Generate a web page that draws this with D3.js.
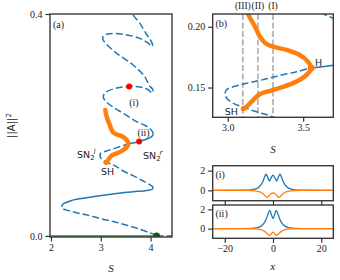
<!DOCTYPE html>
<html>
<head>
<meta charset="utf-8">
<script src="https://cdn.jsdelivr.net/npm/d3@7"></script>
<style>
body { margin: 0; background: #fff; }
text { font-family: 'Liberation Serif', 'DejaVu Serif', serif; fill: #222; }
.sans { font-family: 'DejaVu Sans', sans-serif; }
.axis line { stroke: #333; stroke-width: 1.2; }
.axis path { display: none; }
.frame { fill: none; stroke: #3a3a3a; stroke-width: 1.4; }
</style>
</head>
<body>
<script>
// ---- data (S, ||A||^2) ----
// trivial state
var trivialStable = [[1.9, 0], [4.12, 0]];
var trivialUnstable = [[4.12, 0], [4.5, 0]];

// snaking branch, split where stability changes
var lowBranchDashed = [[4.12, 0.001], [4.0, 0.005], [3.8, 0.0115], [3.52, 0.0193], [3.25, 0.026],
  [2.98, 0.0314], [2.75, 0.037], [2.58, 0.0404], [2.42, 0.044], [2.31, 0.0464], [2.25, 0.0485],
  [2.225, 0.0505], [2.215, 0.0525]];
var lowBranchSolid = [[2.215, 0.0525], [2.225, 0.0555], [2.26, 0.0585], [2.4, 0.0635], [2.65, 0.068],
  [2.98, 0.0725], [3.32, 0.0765], [3.65, 0.0795], [3.92, 0.082], [4.02, 0.0835], [4.05, 0.0855]];
var midBranchDashed = [[4.05, 0.0855], [4.04, 0.0885], [3.99, 0.092], [3.85, 0.099], [3.65, 0.1085],
  [3.45, 0.117], [3.29, 0.1263], [3.19, 0.13], [3.1, 0.134], [3.03, 0.1375], [2.995, 0.141],
  [2.982, 0.145], [2.995, 0.1485], [3.02, 0.15], [3.126, 0.1535], [3.236, 0.1565], [3.347, 0.16],
  [3.457, 0.163], [3.55, 0.166]];
var midBranchSolid = [[3.55, 0.166], [3.7, 0.1683], [3.77, 0.17], [3.85, 0.1725], [3.95, 0.1755],
  [4.035, 0.18], [4.05, 0.183]];
var upBranchDashed = [[4.05, 0.183], [4.045, 0.1865], [3.99, 0.193], [3.9, 0.1985], [3.72, 0.206],
  [3.45, 0.221], [3.25, 0.232], [3.13, 0.24], [3.07, 0.246], [3.05, 0.251], [3.07, 0.256],
  [3.13, 0.2605], [3.32, 0.2665], [3.57, 0.2695], [3.785, 0.2685], [3.95, 0.2635], [4.025, 0.258],
  [4.05, 0.2595], [4.035, 0.265], [3.97, 0.2715], [3.885, 0.287], [3.65, 0.308], [3.32, 0.329],
  [3.12, 0.345], [3.05, 0.353], [3.04, 0.359], [3.08, 0.3625], [3.18, 0.3645], [3.45, 0.3635],
  [3.785, 0.356], [3.96, 0.347], [4.02, 0.3415], [4.04, 0.3425], [4.03, 0.3475], [3.98, 0.3555],
  [3.92, 0.363], [3.785, 0.383], [3.65, 0.398], [3.6, 0.406]];

// orange branch from SH to H and back up
var hopfBranch = [[3.09, 0.227], [3.11, 0.218], [3.136, 0.21], [3.181, 0.2], [3.214, 0.1918],
  [3.25, 0.1864], [3.302, 0.1836], [3.391, 0.1809], [3.475, 0.177], [3.53, 0.1715], [3.553, 0.166],
  [3.523, 0.1604], [3.434, 0.1536], [3.302, 0.1481], [3.214, 0.1446], [3.17, 0.1399],
  [3.126, 0.1344], [3.103, 0.1325]];

var redPoints = [[3.57, 0.2695], [3.77, 0.170]];
var greenPoint = [4.12, 0];
var shPoint = [3.103, 0.1325];
var hPoint = [3.553, 0.166];
var cutS = [3.1, 3.2, 3.3];
var cutLabels = ['(III)', '(II)', '(I)'];

// profiles
var profXi = [-25, -12, -9, -7.5, -6, -5, -4.2, -3.5, -2.9, -2.3, -1.5, -0.8, 0, 0.8, 1.5, 2.3, 2.9,
  3.5, 4.2, 5, 6, 7.5, 9, 12, 25];
var blueI = [0, 0.01, 0.05, 0.12, 0.3, 0.55, 0.9, 1.35, 1.65, 1.4, 0.95, 1.25, 1.55, 1.25, 0.95, 1.4,
  1.65, 1.35, 0.9, 0.55, 0.3, 0.12, 0.05, 0.01, 0];
var orangeI = [0, 0, -0.02, -0.05, -0.12, -0.2, -0.32, -0.5, -0.65, -0.7, -0.5, -0.32, -0.27, -0.32,
  -0.5, -0.7, -0.65, -0.5, -0.32, -0.2, -0.12, -0.05, -0.02, 0, 0];
var profXii = [-25, -12, -9, -7, -5.5, -4.5, -3.5, -2.7, -2, -1.3, -0.6, 0, 0.6, 1.3, 2, 2.7, 3.5,
  4.5, 5.5, 7, 9, 12, 25];
var blueII = [0, 0.005, 0.02, 0.07, 0.18, 0.35, 0.65, 1.05, 1.55, 1.9, 1.4, 1.05, 1.4, 1.9, 1.55,
  1.05, 0.65, 0.35, 0.18, 0.07, 0.02, 0.005, 0];
var orangeII = [0, 0, -0.01, -0.03, -0.08, -0.15, -0.28, -0.45, -0.62, -0.7, -0.5, -0.35, -0.5, -0.7,
  -0.62, -0.45, -0.28, -0.15, -0.08, -0.03, -0.01, 0, 0];

// ticks
var aXTicks = [2, 3, 4];
var aYTicks = [0, 0.4];
var bXTicks = [3.0, 3.5];
var bYTicks = [0.15, 0.20];
var pXTicks = [-20, 0, 20];
var pYTicks = [0, 2];

var blue = '#1f77b4';
var orange = '#ff7f0e';
var dash = '7,3';

var svg = d3.select('body').append('svg')
  .attr('width', 340)
  .attr('height', 280);

function clip(id, x0, y0, x1, y1) {
  svg.append('clipPath').attr('id', id)
    .append('rect').attr('x', x0).attr('y', y0).attr('width', x1 - x0).attr('height', y1 - y0);
}

function styleTicks(sel) {
  sel.attr('font-family', 'Liberation Serif');
  sel.selectAll('text').style('font-size', '10px')
    .style('font-family', "'Liberation Serif', serif").attr('fill', '#222');
}

// ---------- panel (a) ----------
var xA = d3.scaleLinear().domain([1.98, 4.43]).range([50, 172]);
var yA = d3.scaleLinear().domain([-0.002, 0.4]).range([237, 14]);
clip('clipA', 50, 14, 172, 237);
var gA = svg.append('g').attr('clip-path', 'url(#clipA)');
var lineA = d3.line().curve(d3.curveCatmullRom)
  .x(function (d) { return xA(d[0]); })
  .y(function (d) { return yA(d[1]); });

gA.append('path').attr('d', lineA(trivialStable)).attr('fill', 'none')
  .attr('stroke', '#1a8a1a').attr('stroke-width', 1.5);
gA.append('path').attr('d', lineA(trivialUnstable)).attr('fill', 'none')
  .attr('stroke', '#1a8a1a').attr('stroke-width', 1.5).attr('stroke-dasharray', dash);

[lowBranchDashed, midBranchDashed, upBranchDashed].forEach(function (seg) {
  gA.append('path').attr('d', lineA(seg)).attr('fill', 'none')
    .attr('stroke', blue).attr('stroke-width', 1.5).attr('stroke-dasharray', dash);
});
[lowBranchSolid, midBranchSolid].forEach(function (seg) {
  gA.append('path').attr('d', lineA(seg)).attr('fill', 'none')
    .attr('stroke', blue).attr('stroke-width', 1.5);
});
gA.append('path').attr('d', lineA(hopfBranch)).attr('fill', 'none')
  .attr('stroke', orange).attr('stroke-width', 4.5).attr('stroke-linecap', 'round');
gA.append('circle').attr('cx', xA(shPoint[0])).attr('cy', yA(shPoint[1])).attr('r', 2.5).attr('fill', orange);
gA.selectAll('.red').data(redPoints).enter().append('circle')
  .attr('cx', function (d) { return xA(d[0]); })
  .attr('cy', function (d) { return yA(d[1]); })
  .attr('r', 3).attr('fill', 'red');
gA.append('circle').attr('cx', xA(greenPoint[0])).attr('cy', yA(greenPoint[1])).attr('r', 3.5)
  .attr('fill', '#006400');

svg.append('rect').attr('class', 'frame').attr('x', 50).attr('y', 14).attr('width', 122).attr('height', 223);

svg.append('g').attr('class', 'axis').attr('transform', 'translate(0,237)')
  .call(d3.axisBottom(xA).tickValues(aXTicks).tickFormat(d3.format('d')).tickSize(4.5).tickPadding(2.5))
  .call(styleTicks);
svg.append('g').attr('class', 'axis').attr('transform', 'translate(50,0)')
  .call(d3.axisLeft(yA).tickValues(aYTicks).tickFormat(d3.format('.1f')).tickSize(4.5).tickPadding(3))
  .call(styleTicks);

svg.append('text').attr('x', 53).attr('y', 28).style('font-size', '10px').text('(a)');
svg.append('text').attr('x', 134).attr('y', 106).attr('text-anchor', 'middle').style('font-size', '10px').text('(i)');
svg.append('text').attr('x', 143.5).attr('y', 136).attr('text-anchor', 'middle').style('font-size', '10px').text('(ii)');

var snl = svg.append('text').attr('class', 'sans').attr('x', 77).attr('y', 158).style('font-size', '9.5px');
snl.append('tspan').text('SN');
snl.append('tspan').attr('dy', 2).style('font-size', '7px').text('2');
snl.append('tspan').attr('dy', -6).attr('dx', -1).style('font-size', '7px').style('font-style', 'italic').text('l');
var snr = svg.append('text').attr('class', 'sans').attr('x', 143).attr('y', 159).style('font-size', '9.5px');
snr.append('tspan').text('SN');
snr.append('tspan').attr('dy', 2).style('font-size', '7px').text('2');
snr.append('tspan').attr('dy', -6).attr('dx', -1).style('font-size', '7px').style('font-style', 'italic').text('r');
svg.append('text').attr('class', 'sans').attr('x', 101).attr('y', 175).style('font-size', '9.5px').text('SH');

var yl = svg.append('text').attr('class', 'sans')
  .attr('transform', 'translate(15,125.5) rotate(-90)')
  .attr('text-anchor', 'middle').style('font-size', '10px');
yl.append('tspan').text('||A||');
yl.append('tspan').attr('dy', -4).style('font-size', '7px').text('2');
svg.append('text').attr('x', 111).attr('y', 272).attr('text-anchor', 'middle')
  .style('font-size', '11px').style('font-style', 'italic').text('S');

// ---------- panel (b) ----------
var xB = d3.scaleLinear().domain([2.9, 3.7]).range([212.7, 333.3]);
var yB = d3.scaleLinear().domain([0.1255, 0.2105]).range([117.3, 14]);
clip('clipB', 212.7, 14, 333.3, 117.3);
var gB = svg.append('g').attr('clip-path', 'url(#clipB)');
var lineB = d3.line().curve(d3.curveCatmullRom)
  .x(function (d) { return xB(d[0]); })
  .y(function (d) { return yB(d[1]); });

gB.selectAll('.cut').data(cutS).enter().append('line')
  .attr('x1', function (d) { return xB(d); }).attr('x2', function (d) { return xB(d); })
  .attr('y1', 14).attr('y2', 117.3)
  .attr('stroke', '#999').attr('stroke-width', 1.3).attr('stroke-dasharray', '6,2.5');
[midBranchDashed, upBranchDashed].forEach(function (seg) {
  gB.append('path').attr('d', lineB(seg)).attr('fill', 'none')
    .attr('stroke', blue).attr('stroke-width', 1.5).attr('stroke-dasharray', dash);
});
gB.append('path').attr('d', lineB(midBranchSolid)).attr('fill', 'none')
  .attr('stroke', blue).attr('stroke-width', 1.5);
gB.append('path').attr('d', lineB(hopfBranch)).attr('fill', 'none')
  .attr('stroke', orange).attr('stroke-width', 4.5).attr('stroke-linecap', 'round');
gB.append('circle').attr('cx', xB(hPoint[0])).attr('cy', yB(hPoint[1])).attr('r', 3.5).attr('fill', orange);
gB.append('circle').attr('cx', xB(shPoint[0])).attr('cy', yB(shPoint[1])).attr('r', 2.5).attr('fill', orange);

svg.append('rect').attr('class', 'frame').attr('x', 212.7).attr('y', 14).attr('width', 120.6).attr('height', 103.3);
svg.append('g').attr('class', 'axis').attr('transform', 'translate(0,117.3)')
  .call(d3.axisBottom(xB).tickValues(bXTicks).tickFormat(d3.format('.1f')).tickSize(4.5).tickPadding(2.5))
  .call(styleTicks);
svg.append('g').attr('class', 'axis').attr('transform', 'translate(212.7,0)')
  .call(d3.axisLeft(yB).tickValues(bYTicks).tickFormat(d3.format('.2f')).tickSize(4.5).tickPadding(3))
  .call(styleTicks);

svg.selectAll('.cutlab').data(cutS).enter().append('text')
  .attr('x', function (d) { return xB(d); }).attr('y', 9)
  .attr('text-anchor', 'middle').style('font-size', '9.5px')
  .text(function (d, i) { return cutLabels[i]; });
svg.append('text').attr('x', 215.5).attr('y', 27).style('font-size', '10px').text('(b)');
svg.append('text').attr('class', 'sans').attr('x', 238).attr('y', 115).attr('text-anchor', 'end')
  .style('font-size', '9.5px').text('SH');
svg.append('text').attr('class', 'sans').attr('x', 315).attr('y', 66).style('font-size', '9.5px').text('H');
svg.append('text').attr('x', 273).attr('y', 153).attr('text-anchor', 'middle')
  .style('font-size', '11px').style('font-style', 'italic').text('S');

// ---------- profile panels ----------
var xP = d3.scaleLinear().domain([-25, 25]).range([212.7, 333.3]);
function profile(id, top, bottom, yDom, xs, ys1, ys2, label, showX) {
  var yP = d3.scaleLinear().domain(yDom).range([bottom, top]);
  clip(id, 212.7, top, 333.3, bottom);
  var g = svg.append('g').attr('clip-path', 'url(#' + id + ')');
  var line = d3.line().curve(d3.curveMonotoneX)
    .x(function (d, i) { return xP(xs[i]); })
    .y(function (d) { return yP(d); });
  g.append('path').attr('d', line(ys1)).attr('fill', 'none').attr('stroke', blue).attr('stroke-width', 1.3);
  g.append('path').attr('d', line(ys2)).attr('fill', 'none').attr('stroke', orange).attr('stroke-width', 1.3);
  svg.append('rect').attr('class', 'frame').attr('x', 212.7).attr('y', top)
    .attr('width', 120.6).attr('height', bottom - top);
  var ax = svg.append('g').attr('class', 'axis').attr('transform', 'translate(0,' + bottom + ')')
    .call(d3.axisBottom(xP).tickValues(pXTicks).tickFormat(d3.format('d')).tickSize(4.5).tickPadding(2.5))
    .call(styleTicks);
  if (!showX) ax.selectAll('text').remove();
  svg.append('g').attr('class', 'axis').attr('transform', 'translate(212.7,0)')
    .call(d3.axisLeft(yP).tickValues(pYTicks).tickFormat(d3.format('d')).tickSize(4.5).tickPadding(3))
    .call(styleTicks);
  svg.append('text').attr('x', 215.5).attr('y', top + 12).style('font-size', '10px').text(label);
}
profile('clipI', 165.7, 200.7, [-1.05, 2.5], profXi, blueI, orangeI, '(i)', false);
profile('clipII', 205, 238.3, [-1.0, 2.45], profXii, blueII, orangeII, '(ii)', true);

svg.append('text').attr('x', 272.7).attr('y', 270).attr('text-anchor', 'middle')
  .style('font-size', '11px').style('font-style', 'italic').text('x');
</script>
</body>
</html>
